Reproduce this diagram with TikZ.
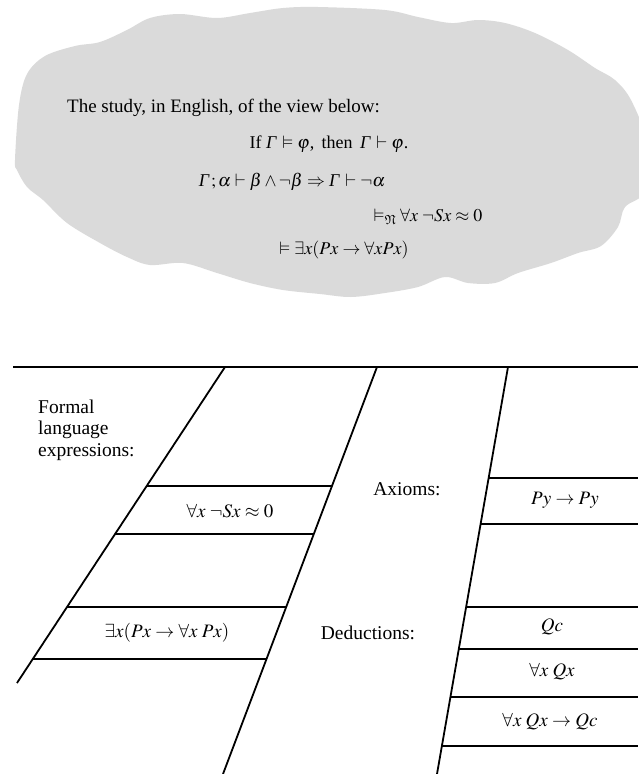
\documentclass[tikz,border=0pt]{standalone}
\usepackage{mathptmx}
\usepackage{amssymb}
\usepackage[no-math]{fontspec}
\setmainfont{Liberation Serif}
\newcommand{\Gm}{\mbox{\itshape Γ}\,}
\definecolor{cloudgray}{RGB}{218,218,218}
\tikzset{
  rule/.style={line width=1.8pt, line cap=butt},
  cloudtxt/.style={inner sep=0pt, font=\fontsize{18}{21}\selectfont},
  titletxt/.style={inner sep=0pt, font=\fontsize{19}{21}\selectfont},
  lbl/.style={inner sep=0pt, font=\fontsize{19.5}{21.5}\selectfont},
  cell/.style={inner sep=0pt, font=\fontsize{19}{21}\selectfont}
}
\begin{document}
\begin{tikzpicture}[x=1pt,y=-1pt]
\useasboundingbox (0,0) rectangle (638,774);
% cloud
\fill[cloudgray] plot[smooth cycle, tension=0.55] coordinates {
 (15,160) (19,105) (27,74) (45,56) (75,46) (100,42) (127,30) (150,18) (180,14)
 (217,18) (250,13) (283,8) (318,7) (385,10) (418,17) (451,23) (478,20) (505,23)
 (535,33) (568,50) (595,68) (615,80) (631,100) (646,140) (646,190) (625,207)
 (618,227) (601,246) (578,253) (551,263) (518,273) (495,283) (468,283) (445,277)
 (418,287) (385,293) (351,297) (320,294) (283,290) (250,283) (217,273) (183,263)
 (150,265) (127,257) (100,243) (67,223) (43,200) (27,187) (17,170)};
% cloud text
\node[titletxt, anchor=base west] (title) at (67,112) {The study, in English, of the view below:};
\node[cloudtxt] (l2) at (329,144) {If $\Gm\vDash\varphi$,\, then\, $\Gm\vdash\varphi$.};
\node[cloudtxt] (l3) at (292,182) {$\Gm;\alpha\vdash\beta\wedge\neg\beta\Rightarrow\Gm\vdash\neg\alpha$};
\node[cloudtxt] (l4) at (428,217) {$\vDash_{\mathfrak{N}}\forall x\;\neg Sx\approx 0$};
\node[cloudtxt] (l5) at (344,250) {$\vDash\exists x(Px\to\forall xPx)$};
% frame lines
\coordinate (TL) at (13,367); \coordinate (TR) at (638,367);
\coordinate (A0) at (225,367); \coordinate (A1) at (17,683);
\coordinate (B0) at (377,367); \coordinate (B1) at (223,774);
\coordinate (C0) at (508,367); \coordinate (C1) at (437,774);
\draw[rule] (TL) -- (TR);
\draw[rule] (A0) -- (A1);
\draw[rule] (B0) -- (B1);
\draw[rule] (C0) -- (C1);
% left rungs
\draw[rule] (146.7,486) -- (332.0,486);
\draw[rule] (115.1,534) -- (313.8,534);
\draw[rule] (67.0,607) -- (286.2,607);
\draw[rule] (32.8,659) -- (266.5,659);
% right rungs
\draw[rule] (488.6,478) -- (638,478);
\draw[rule] (480.6,524) -- (638,524);
\draw[rule] (466.1,607) -- (638,607);
\draw[rule] (458.8,649) -- (638,649);
\draw[rule] (450.4,697) -- (638,697);
\draw[rule] (441.9,746) -- (638,746);
% labels
\node[lbl, anchor=west, align=left] (formal) at (38,430) {Formal\\language\\expressions:};
\node[lbl] (axioms) at (407,489) {Axioms:};
\node[lbl] (deduct) at (368,633) {Deductions:};
\node[cell] (e1) at (230,511) {$\forall x\;\neg Sx\approx 0$};
\node[cell] (e2) at (167,633) {$\exists x(Px\to\forall x\;Px)$};
\node[cell] (r1) at (565,500) {$Py\to Py$};
\node[cell] (r2) at (552,627) {$Qc$};
\node[cell] (r3) at (552,672) {$\forall x\;Qx$};
\node[cell] (r4) at (550,722) {$\forall x\;Qx\to Qc$};
\end{tikzpicture}
\end{document}
